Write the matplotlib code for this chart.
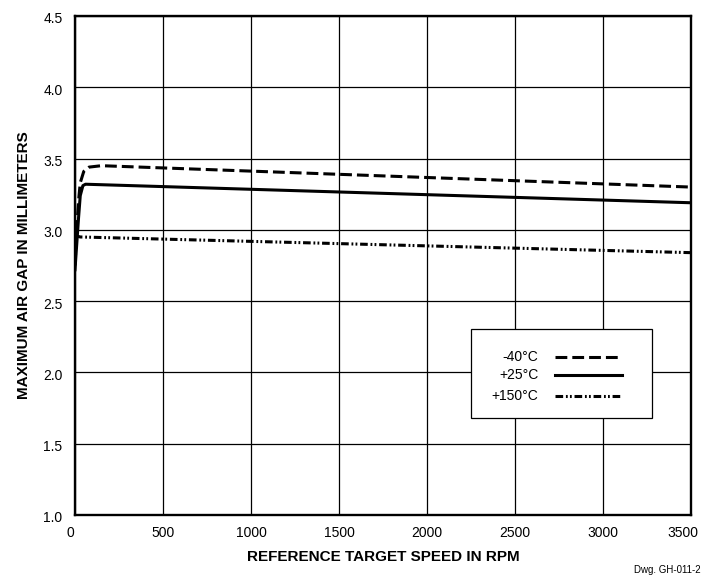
import matplotlib
matplotlib.use("Agg")
import matplotlib.pyplot as plt
from matplotlib.patches import Rectangle
from matplotlib.transforms import ScaledTranslation

plt.rcParams['font.family'] = ['Liberation Sans', 'DejaVu Sans']
plt.rcParams['lines.scale_dashes'] = False

# Data
rpm_m40 = [0, 10, 20, 30, 50, 80, 150, 3500]
gap_m40 = [2.75, 3.00, 3.20, 3.33, 3.41, 3.44, 3.45, 3.30]

rpm_p25 = [0, 10, 20, 30, 45, 60, 3500]
gap_p25 = [2.72, 2.90, 3.08, 3.24, 3.31, 3.32, 3.19]

rpm_p150 = [0, 30, 3500]
gap_p150 = [2.96, 2.95, 2.84]

labels = ['-40°C', '+25°C', '+150°C']
xticks = [0, 500, 1000, 1500, 2000, 2500, 3000, 3500]
yticks = [1.0, 1.5, 2.0, 2.5, 3.0, 3.5, 4.0, 4.5]

dash_m40 = (0, (8.5, 3.6))
dash_p25 = '-'
dash_p150 = (0, (5.5, 2.0, 1.3, 1.6, 1.3, 2.0))

fig = plt.figure(figsize=(7.04, 5.86), dpi=100)
ax = fig.add_axes([0.1065, 0.1212, 0.875, 0.8515])

lw = 2.2
ax.plot(rpm_m40, gap_m40, color='black', lw=lw, linestyle=dash_m40, dash_capstyle='butt')
ax.plot(rpm_p25, gap_p25, color='black', lw=lw, linestyle=dash_p25)
ax.plot(rpm_p150, gap_p150, color='black', lw=lw, linestyle=dash_p150, dash_capstyle='butt')

ax.set_xlim(0, 3500)
ax.set_ylim(1.0, 4.5)
ax.set_xticks(xticks)
ax.set_xticklabels([str(t) for t in xticks])
ax.set_yticks(yticks)
ax.set_yticklabels([f'{t:.1f}' for t in yticks])
ax.tick_params(axis='x', length=0, labelsize=10, pad=8)
ax.tick_params(axis='y', length=0, labelsize=10, pad=9)
ax.grid(True, color='black', lw=0.9)
for s in ax.spines.values():
    s.set_linewidth(1.7)

# nudge the edge x tick labels like the reference
xl = ax.get_xticklabels()
xl[0].set_transform(xl[0].get_transform() + ScaledTranslation(-5 / 100, 0, fig.dpi_scale_trans))
xl[-1].set_transform(xl[-1].get_transform() + ScaledTranslation(-8 / 100, 0, fig.dpi_scale_trans))
yl = ax.get_yticklabels()
for t in yl:
    t.set_transform(t.get_transform() + ScaledTranslation(0, -2 / 100, fig.dpi_scale_trans))

ax.set_xlabel('REFERENCE TARGET SPEED IN RPM', fontsize=11, fontweight='bold', labelpad=7)
ax.set_ylabel('MAXIMUM AIR GAP IN MILLIMETERS', fontsize=11, fontweight='bold', labelpad=9)

# Legend box drawn manually (right-aligned labels)
rect = Rectangle((0.643, 0.194), 0.294, 0.179, transform=ax.transAxes,
                 facecolor='white', edgecolor='black', lw=0.9, zorder=5)
ax.add_patch(rect)
rows_y = [0.316, 0.280, 0.238]
styles = [dash_m40, dash_p25, dash_p150]
for lab, yy, st in zip(labels, rows_y, styles):
    ax.text(0.752, yy, lab, transform=ax.transAxes, ha='right', va='center',
            fontsize=10, zorder=6)
    ax.plot([0.779, 0.888], [yy, yy], transform=ax.transAxes, color='black',
            lw=lw, linestyle=st, dash_capstyle='butt', zorder=6, clip_on=False)

fig.text(0.995, 0.018, 'Dwg. GH-011-2', ha='right', va='bottom', fontsize=7)

fig.savefig('out.png', dpi=100)
